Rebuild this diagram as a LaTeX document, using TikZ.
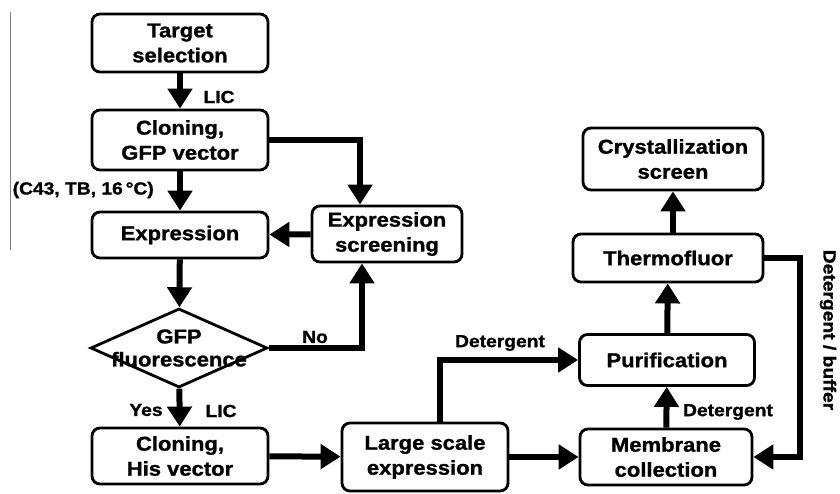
\documentclass[tikz,border=0pt]{standalone}
\usepackage{fontspec}
\setmainfont{Liberation Sans}[FakeStretch=1.1,BoldFeatures={FakeBold=1.2}]
\usetikzlibrary{arrows.meta,shapes.geometric}
\begin{document}
\begin{tikzpicture}[x=1pt,y=-1pt,
  box/.style={draw,line width=2.8pt,rounded corners=8pt,align=center,font=\fontsize{20}{25}\selectfont\bfseries,inner sep=0pt},
  arr/.style={line width=6pt,-{Triangle[length=20pt,width=24pt]}},
  lbl/.style={font=\fontsize{17.5}{20}\selectfont\bfseries,inner sep=0pt}]
\useasboundingbox (0,0) rectangle (840,494);
\draw[gray,line width=0.8pt] (10,12) -- (10,250);
\node[box,minimum width=176pt,minimum height=58pt] (ts) at (180,43) {Target\\selection};
\node[box,minimum width=176pt,minimum height=60pt] (c1) at (180,140) {Cloning,\\GFP vector};
\node[box,minimum width=176pt,minimum height=46pt] (ex) at (180,235) {Expression};
\node[box,minimum width=150pt,minimum height=56pt] (es) at (387,234) {Expression\\screening};
\node[draw,diamond,line width=2.8pt,minimum width=177pt,minimum height=79pt,inner sep=0pt] (d) at (179,348) {};
\node[align=center,font=\fontsize{20}{23}\selectfont\bfseries,inner sep=0pt] (dt) at (d) {GFP\\fluorescence};
\node[box,minimum width=176pt,minimum height=56pt] (c2) at (180,456) {Cloning,\\His vector};
\node[box,minimum width=166pt,minimum height=68pt] (ls) at (425,457) {Large scale\\expression};
\node[box,minimum width=172pt,minimum height=56pt] (mc) at (666,457) {Membrane\\collection};
\node[box,minimum width=175pt,minimum height=51pt] (pu) at (667,360) {Purification};
\node[box,minimum width=190pt,minimum height=48pt] (tf) at (668,258) {Thermofluor};
\node[box,minimum width=180pt,minimum height=62pt] (cs) at (673,159) {Crystallization\\screen};
% connectors
\draw[arr] (ts) -- (c1);
\node[lbl] (lic1) at (219,97) {LIC};
\draw[arr] (c1) -- (ex);
\node[lbl,anchor=east] (cond) at (154,190) {(C43, TB, 16\,°C)};
\draw[arr] (c1.east) -| ([xshift=-27pt]es.north);
\draw[arr] (es) -- (ex);
\draw[arr] (ex) -- (d);
\draw[arr] (d.east) -| ([xshift=-25pt]es.south);
\node[lbl] (no) at (315,337) {No};
\draw[arr] (d) -- (c2);
\node[lbl] (yes) at (146,410) {Yes};
\node[lbl] (lic2) at (221,411) {LIC};
\draw[arr] (c2) -- (ls);
\draw[arr] (ls.east) -- (mc.west);
\draw[arr] ([xshift=15pt]ls.north) |- (pu.west);
\node[lbl] (det1) at (500,343) {Detergent};
\draw[arr] (mc) -- (pu);
\node[lbl] (det2) at (728,412) {Detergent};
\draw[arr] (pu) -- (tf);
\draw[arr] ([xshift=5pt]tf.north) -- ([xshift=0pt]cs.south);
\coordinate (rt) at (800,258);
\draw[arr] (tf.east) -- (rt) |- (mc.east);
\node[lbl,rotate=-90] (db) at (828,330) {Detergent / buffer};
\end{tikzpicture}
\end{document}
